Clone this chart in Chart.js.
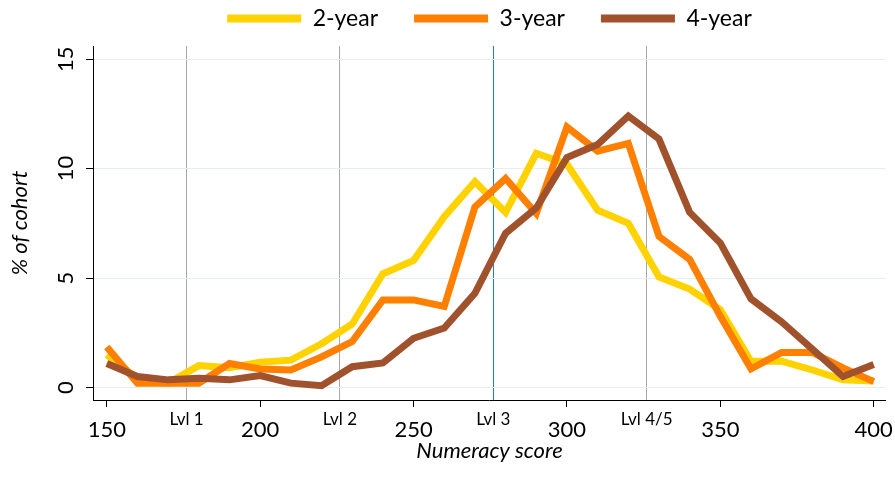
<!DOCTYPE html>
<html>
<head>
<meta charset="utf-8">
<script src="https://cdn.jsdelivr.net/npm/chart.js@4.4.1/dist/chart.umd.min.js"></script>
<style>
  body { margin: 0; background: #fff; }
  #wrap { width: 895px; height: 491px; }
</style>
</head>
<body>
<div id="wrap"><canvas id="chart-numeracy"></canvas></div>
<script>
// numeracy score bins
const scores = [150, 160, 170, 180, 190, 200, 210, 220, 230, 240, 250, 260, 270,
  280, 290, 300, 310, 320, 330, 340, 350, 360, 370, 380, 390, 400];

// % of cohort
const twoYear = [1.5, 0.4, 0.2, 1.0, 0.9, 1.15, 1.25, 2.0, 2.9, 5.2, 5.8, 7.8, 9.4,
  8.0, 10.7, 10.2, 8.1, 7.5, 5.05, 4.5, 3.55, 1.2, 1.2, 0.8, 0.35, 0.3];
const threeYear = [1.85, 0.2, 0.2, 0.2, 1.1, 0.85, 0.8, 1.4, 2.1, 4.0, 4.0, 3.7, 8.25,
  9.55, 7.95, 11.9, 10.8, 11.15, 6.9, 5.85, 3.25, 0.85, 1.6, 1.6, 0.9, 0.27];
const fourYear = [1.1, 0.5, 0.35, 0.42, 0.35, 0.55, 0.2, 0.08, 0.95, 1.12, 2.25, 2.72, 4.3,
  7.05, 8.2, 10.5, 11.1, 12.4, 11.35, 8.0, 6.6, 4.05, 3.0, 1.75, 0.5, 1.05];

// proficiency level cut points
const levelScores = [176, 226, 276, 326];
const levelNames = ['Lvl 1', 'Lvl 2', 'Lvl 3', 'Lvl 4/5'];

// axis ticks
const scoreTicks = [150, 200, 250, 300, 350, 400];
const pctTicks = [0, 5, 10, 15];

const toPoints = (vals) => vals.map((v, i) => ({ x: scores[i], y: v }));
const isLevel = (c) => c.tick && levelScores.includes(c.tick.value);

Chart.defaults.font.family = 'Lato';
Chart.defaults.color = '#000';

const ctx = document.getElementById('chart-numeracy');

new Chart(ctx, {
  type: 'line',
  data: {
    datasets: [
      { label: '2-year', data: toPoints(twoYear), borderColor: '#ffd200', backgroundColor: '#ffd200', order: 3 },
      { label: '3-year', data: toPoints(threeYear), borderColor: '#ff8000', backgroundColor: '#ff8000', order: 2 },
      { label: '4-year', data: toPoints(fourYear), borderColor: '#a0522d', backgroundColor: '#a0522d', order: 1 }
    ]
  },
  options: {
    responsive: true,
    maintainAspectRatio: false,
    animation: false,
    elements: {
      line: { borderWidth: 7, tension: 0, fill: false },
      point: { radius: 0, hoverRadius: 0 }
    },
    layout: {
      padding: { top: -29, right: 8, bottom: 0, left: 0 }
    },
    plugins: {
      tooltip: { enabled: false },
      legend: {
        display: true,
        position: 'top',
        fullSize: false,
        labels: {
          boxWidth: 74,
          boxHeight: 8,
          padding: 36,
          font: { size: 23 },
          color: '#000',
          generateLabels: (chart) => Chart.defaults.plugins.legend.labels.generateLabels(chart)
            .map(item => ({ ...item, lineWidth: 0 })),
          sort: (a, b) => a.datasetIndex - b.datasetIndex
        }
      },
      // spacer between legend and plot
      subtitle: {
        display: true,
        text: '',
        weight: 500,
        padding: 0,
        font: { size: 6, lineHeight: '6px' }
      }
    },
    scales: {
      x: {
        type: 'linear',
        min: 145.5,
        max: 404,
        afterBuildTicks: (scale) => {
          scale.ticks = scoreTicks.concat(levelScores).sort((a, b) => a - b).map(v => ({ value: v }));
        },
        afterFit: (scale) => { scale.height = 91; },
        border: { display: true, color: '#000', width: 1 },
        grid: {
          drawOnChartArea: true,
          lineWidth: 1,
          tickLength: 7,
          color: (c) => {
            if (!isLevel(c)) return 'rgba(0,0,0,0)';
            return c.tick.value === 276 ? '#1e78e6' : '#a8a8a8';
          },
          tickColor: (c) => isLevel(c) ? 'rgba(0,0,0,0)' : '#000'
        },
        ticks: {
          autoSkip: false,
          maxRotation: 0,
          minRotation: 0,
          padding: 2,
          color: '#000',
          // level names sit a little higher and smaller than the score labels
          font: (c) => isLevel(c) ? { size: 17, lineHeight: '22px' } : { size: 22, lineHeight: '42px' },
          callback: (value) => {
            const k = levelScores.indexOf(value);
            return k >= 0 ? levelNames[k] : String(value);
          }
        },
        title: {
          display: true,
          text: 'Numeracy score',
          color: '#000',
          font: { size: 22, style: 'italic' },
          padding: { top: 0, bottom: 27 }
        }
      },
      y: {
        min: -0.57,
        max: 15.6,
        afterBuildTicks: (scale) => {
          scale.ticks = pctTicks.map(v => ({ value: v }));
        },
        afterFit: (scale) => { scale.width = 93; },
        border: { display: true, color: '#000', width: 1 },
        grid: {
          color: '#e6eeee',
          lineWidth: 1,
          tickLength: 7,
          tickColor: '#000'
        },
        ticks: {
          minRotation: 90,
          maxRotation: 90,
          crossAlign: 'center',
          padding: 7,
          color: '#000',
          font: { size: 22 }
        },
        title: {
          display: true,
          text: '% of cohort',
          color: '#000',
          font: { size: 22, style: 'italic' },
          padding: { top: 7, bottom: 0 }
        }
      }
    }
  }
});
</script>
</body>
</html>
